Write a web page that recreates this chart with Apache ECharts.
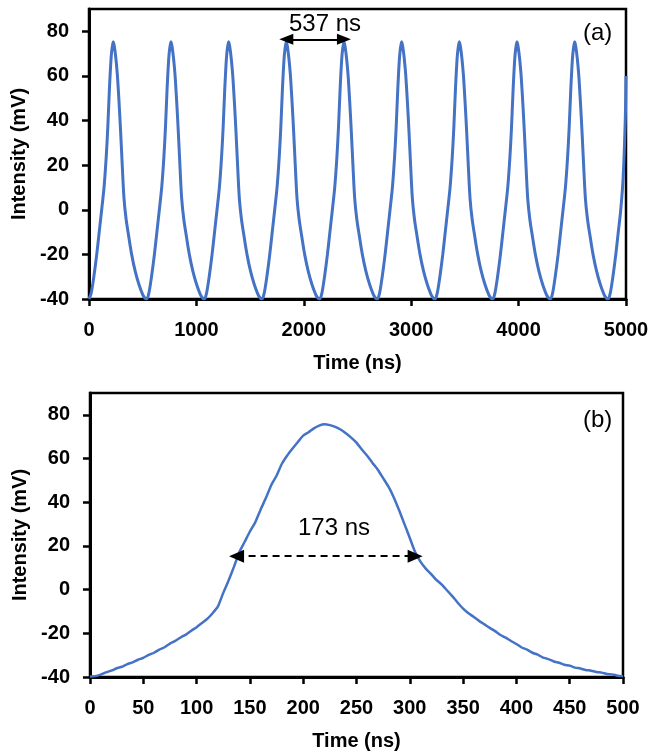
<!DOCTYPE html>
<html>
<head>
<meta charset="utf-8">
<script src="https://cdn.jsdelivr.net/npm/echarts@6/dist/echarts.min.js"></script>
<style>
html,body{margin:0;padding:0;background:#fff;}
#chart{width:653px;height:753px;}
</style>
</head>
<body>
<div id="chart"></div>
<script>
// ---------- Data ----------
// (a) pulse train, time in ns
const timeA = [
  0,20,45,72,95,118,140,160,175,190,205,215,226,237,250,264,280,295,310,326,345,370,397,430,465,500,520,
  537,557,582,609,632,655,677,697,712,727,742,752,763,774,787,801,817,832,847,863,882,907,934,967,1002,1037,1057,
  1074,1094,1119,1146,1169,1192,1214,1234,1249,1264,1279,1289,1300,1311,1324,1338,1354,1369,1384,1400,1419,1444,1471,1504,1539,1574,1594,
  1611,1631,1656,1683,1706,1729,1751,1771,1786,1801,1816,1826,1837,1848,1861,1875,1891,1906,1921,1937,1956,1981,2008,2041,2076,2111,2131,
  2148,2168,2193,2220,2243,2266,2288,2308,2323,2338,2353,2363,2374,2385,2398,2412,2428,2443,2458,2474,2493,2518,2545,2578,2613,2648,2668,
  2685,2705,2730,2757,2780,2803,2825,2845,2860,2875,2890,2900,2911,2922,2935,2949,2965,2980,2995,3011,3030,3055,3082,3115,3150,3185,3205,
  3222,3242,3267,3294,3317,3340,3362,3382,3397,3412,3427,3437,3448,3459,3472,3486,3502,3517,3532,3548,3567,3592,3619,3652,3687,3722,3742,
  3759,3779,3804,3831,3854,3877,3899,3919,3934,3949,3964,3974,3985,3996,4009,4023,4039,4054,4069,4085,4104,4129,4156,4189,4224,4259,4279,
  4296,4316,4341,4368,4391,4414,4436,4456,4471,4486,4501,4511,4522,4533,4546,4560,4576,4591,4606,4622,4641,4666,4693,4726,4761,4796,4816,
  4833,4853,4878,4905,4928,4951,4973,4993,5000
];
const intensityA = [
  -40,-37.5,-30,-20,-10,0,10,23.5,37,54,67.5,72.5,75.3,73,68,60.5,48,34.5,19.5,5,-4,-12,-20,-27.5,-33.5,-38,-39.5,
  -40,-37.5,-30,-20,-10,0,10,23.5,37,54,67.5,72.5,75.3,73,68,60.5,48,34.5,19.5,5,-4,-12,-20,-27.5,-33.5,-38,-39.5,
  -40,-37.5,-30,-20,-10,0,10,23.5,37,54,67.5,72.5,75.3,73,68,60.5,48,34.5,19.5,5,-4,-12,-20,-27.5,-33.5,-38,-39.5,
  -40,-37.5,-30,-20,-10,0,10,23.5,37,54,67.5,72.5,75.3,73,68,60.5,48,34.5,19.5,5,-4,-12,-20,-27.5,-33.5,-38,-39.5,
  -40,-37.5,-30,-20,-10,0,10,23.5,37,54,67.5,72.5,75.3,73,68,60.5,48,34.5,19.5,5,-4,-12,-20,-27.5,-33.5,-38,-39.5,
  -40,-37.5,-30,-20,-10,0,10,23.5,37,54,67.5,72.5,75.3,73,68,60.5,48,34.5,19.5,5,-4,-12,-20,-27.5,-33.5,-38,-39.5,
  -40,-37.5,-30,-20,-10,0,10,23.5,37,54,67.5,72.5,75.3,73,68,60.5,48,34.5,19.5,5,-4,-12,-20,-27.5,-33.5,-38,-39.5,
  -40,-37.5,-30,-20,-10,0,10,23.5,37,54,67.5,72.5,75.3,73,68,60.5,48,34.5,19.5,5,-4,-12,-20,-27.5,-33.5,-38,-39.5,
  -40,-37.5,-30,-20,-10,0,10,23.5,37,54,67.5,72.5,75.3,73,68,60.5,48,34.5,19.5,5,-4,-12,-20,-27.5,-33.5,-38,-39.5,
  -40,-37.5,-30,-20,-10,0,14,40,60
];

// (b) single pulse, time in ns
const timeB = [
  0,5,10,15,20,25,30,35,40,45,50,55,60,65,70,75,80,85,90,95,
  100,105,110,115,120,125,130,135,140,145,150,155,160,165,170,175,180,185,190,195,
  200,205,210,215,220,225,230,235,240,245,250,255,260,265,270,275,280,285,290,295,
  300,305,310,315,320,325,330,335,340,345,350,355,360,365,370,375,380,385,390,395,
  400,405,410,415,420,425,430,435,440,445,450,455,460,465,470,475,480,485,490,495,500
];
const intensityB = [
  -39.8,-39.6,-38.9,-37.9,-37.1,-36.0,-35.3,-34.1,-33.3,-32.1,-31.2,-29.9,-28.9,-27.5,-26.4,-24.7,-23.5,-21.9,-20.6,-18.8,
  -17.2,-15.3,-13.4,-10.8,-7.7,-1.5,4.2,10.4,17.1,21.8,26.6,30.8,36.6,41.9,47.8,52.1,57.6,61.4,64.6,67.6,
  70.5,72.0,73.8,75.1,75.7,75.3,74.5,73.3,71.6,69.6,67.3,64.1,61.3,58.0,54.9,51.0,47.1,42.2,36.3,30.0,
  23.6,17.2,12.8,9.6,7.1,4.4,2.3,-0.4,-3.1,-6.0,-8.7,-10.8,-12.5,-14.3,-15.9,-17.5,-19.0,-20.8,-22.0,-23.5,
  -24.9,-26.5,-27.5,-28.9,-29.8,-31.1,-31.8,-32.9,-33.5,-34.4,-34.8,-35.7,-36.1,-36.8,-37.1,-37.7,-38.0,-38.6,-38.8,-39.4,-39.6
];

// Tick labels
const yTicks = [-40,-20,0,20,40,60,80];
const xTicksA = [0,1000,2000,3000,4000,5000];
const xTicksB = [0,50,100,150,200,250,300,350,400,450,500];

// Annotations (data coordinates)
const periodArrow = [1837, 2374, 76.4];   // from, to, level
const widthArrow = [137.5, 305, 15.3];    // from, to, level
const periodText = '537 ns';
const widthText = '173 ns';

// ---------- Chart ----------
const zip = (a, b) => a.map((v, i) => [v, b[i]]);
const FONT = 'Liberation Sans';
const BLUE = '#4472C4';

function xAxisCfg(grid, max, interval, ticks, gap) {
  return {
    gridIndex: grid, type: 'value', min: 0, max: max, interval: interval,
    name: 'Time (ns)', nameLocation: 'middle', nameGap: gap,
    nameTextStyle: {fontFamily: FONT, fontSize: 20, fontWeight: 'bold', color: '#000'},
    axisLine: {show: true, onZero: false, lineStyle: {color: '#000', width: 3}},
    axisTick: {show: true, inside: false, length: 7, lineStyle: {color: '#000', width: 2.5}, customValues: ticks},
    axisLabel: {fontFamily: FONT, fontSize: 20, fontWeight: 'bold', color: '#000', margin: 21,
                customValues: ticks, formatter: v => String(v)},
    splitLine: {show: false}
  };
}
function yAxisCfg(grid) {
  return {
    gridIndex: grid, type: 'value', min: -40, max: 90, interval: 10,
    name: 'Intensity (mV)', nameLocation: 'middle', nameGap: 57,
    nameTextStyle: {fontFamily: FONT, fontSize: 20, fontWeight: 'bold', color: '#000'},
    axisLine: {show: true, onZero: false, lineStyle: {color: '#000', width: 3}},
    axisTick: {show: true, inside: false, length: 7, lineStyle: {color: '#000', width: 2.5}, customValues: yTicks},
    axisLabel: {fontFamily: FONT, fontSize: 20, fontWeight: 'bold', color: '#000', margin: 20,
                customValues: yTicks, formatter: v => String(v)},
    splitLine: {show: false}
  };
}
function arrowLine(arr, dashed, size) {
  return {
    silent: true,
    symbol: ['triangle', 'triangle'],
    symbolSize: size,
    label: {show: false},
    itemStyle: {color: '#000'},
    lineStyle: {color: '#000', width: 2, type: dashed ? [7, 5] : 'solid'},
    emphasis: {disabled: true},
    animation: false,
    data: [[{coord: [arr[0], arr[2]]}, {coord: [arr[1], arr[2]]}]]
  };
}

const chart = echarts.init(document.getElementById('chart'), null, {renderer: 'canvas'});
chart.setOption({
  animation: false,
  backgroundColor: '#fff',
  grid: [
    {left: 89, top: 9, width: 537, height: 290, show: true, borderColor: '#000', borderWidth: 2.5, containLabel: false},
    {left: 90, top: 393, width: 533, height: 284, show: true, borderColor: '#000', borderWidth: 2.5, containLabel: false}
  ],
  xAxis: [xAxisCfg(0, 5000, 1000, xTicksA, 54), xAxisCfg(1, 500, 50, xTicksB, 54)],
  yAxis: [yAxisCfg(0), yAxisCfg(1)],
  series: [
    {
      type: 'line', xAxisIndex: 0, yAxisIndex: 0, data: zip(timeA, intensityA),
      showSymbol: false, smooth: 0.3, clip: true,
      lineStyle: {color: BLUE, width: 3}, itemStyle: {color: BLUE},
      markLine: arrowLine(periodArrow, false, [11, 14])
    },
    {
      type: 'line', xAxisIndex: 1, yAxisIndex: 1, data: zip(timeB, intensityB),
      showSymbol: false, smooth: 0.2, clip: true,
      lineStyle: {color: BLUE, width: 2.5}, itemStyle: {color: BLUE},
      markLine: arrowLine(widthArrow, true, [13, 15])
    }
  ],
  graphic: [
    {type: 'text', left: 583, top: 21, style: {text: '(a)', fontFamily: FONT, fontSize: 24, fill: '#000'}},
    {type: 'text', left: 583, top: 408, style: {text: '(b)', fontFamily: FONT, fontSize: 24, fill: '#000'}},
    {type: 'text', left: 289, top: 12, style: {text: periodText, fontFamily: FONT, fontSize: 24, fill: '#000'}},
    {type: 'text', left: 298, top: 516, style: {text: widthText, fontFamily: FONT, fontSize: 24, fill: '#000'}}
  ]
});
</script>
</body>
</html>
